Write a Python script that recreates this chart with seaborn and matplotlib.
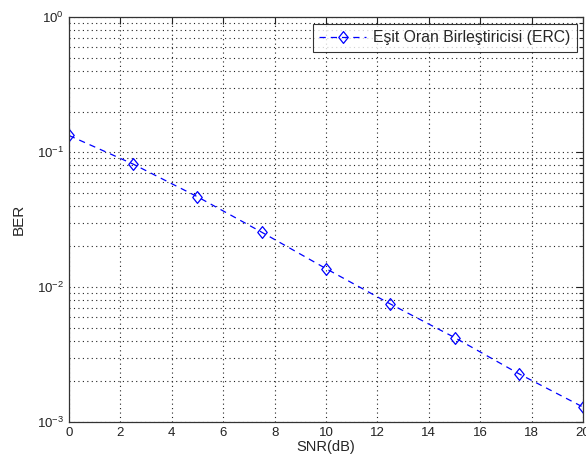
import numpy as np
import pandas as pd
import seaborn as sns
import matplotlib
matplotlib.use("Agg")
import matplotlib.pyplot as plt
from matplotlib.path import Path
from matplotlib.ticker import LogLocator, MultipleLocator, NullFormatter

# values
snr_db = [0, 2.5, 5, 7.5, 10, 12.5, 15, 17.5, 20]
ber = [0.133, 0.0815, 0.0467, 0.0255, 0.0137, 0.0075, 0.00423, 0.00228, 0.00129]
label = "Eşit Oran Birleştiricisi (ERC)"

df = pd.DataFrame({"SNR": snr_db, "BER": ber})

sns.set_style("white")
plt.rcParams["font.family"] = ["Liberation Sans", "DejaVu Sans"]
plt.rcParams["mathtext.default"] = "regular"

# matlab style diamond, a bit taller than wide
diamond = Path([(0, 1), (0.8, 0), (0, -1), (-0.8, 0), (0, 1)],
               [Path.MOVETO, Path.LINETO, Path.LINETO, Path.LINETO, Path.CLOSEPOLY])

fig = plt.figure(figsize=(5.86, 4.66), dpi=100)
ax = fig.add_axes([0.1177, 0.0944, 0.8773, 0.8686])

sns.lineplot(data=df, x="SNR", y="BER", ax=ax, color="blue", linestyle=(0, (5, 4)),
             linewidth=0.9, marker=diamond, markersize=8.5, markerfacecolor="none",
             markeredgecolor="blue", markeredgewidth=0.9, label=label)

ax.set_yscale("log")
ax.set_xlim(0, 20)
ax.set_ylim(1e-3, 1)
ax.xaxis.set_major_locator(MultipleLocator(2))
ax.yaxis.set_major_locator(LogLocator(base=10, numticks=10))
ax.yaxis.set_minor_locator(LogLocator(base=10, subs=np.arange(2, 10), numticks=10))
ax.yaxis.set_minor_formatter(NullFormatter())

grid_kw = dict(linestyle=(0, (1, 3)), color="#222222", linewidth=0.8)
ax.grid(True, which="major", axis="both", **grid_kw)
ax.grid(True, which="minor", axis="y", **grid_kw)

ax.tick_params(which="both", direction="in", top=True, right=True, labelsize=9.5,
               colors="#222222", width=0.8)
ax.tick_params(which="major", length=5)
ax.tick_params(which="minor", length=3)
for s in ax.spines.values():
    s.set_color("#333333")
    s.set_linewidth(0.9)

ax.set_xlabel("SNR(dB)", fontsize=10.5, labelpad=1)
ax.set_ylabel("BER", fontsize=11, labelpad=8)

leg = ax.legend(loc="upper right", fontsize=11.3, frameon=True, fancybox=False,
                edgecolor="black", handlelength=3.0, borderpad=0.4, borderaxespad=0,
                handletextpad=0.45, bbox_to_anchor=(0.988, 0.983))
leg.get_frame().set_linewidth(0.8)

fig.savefig("out.png", dpi=100)
